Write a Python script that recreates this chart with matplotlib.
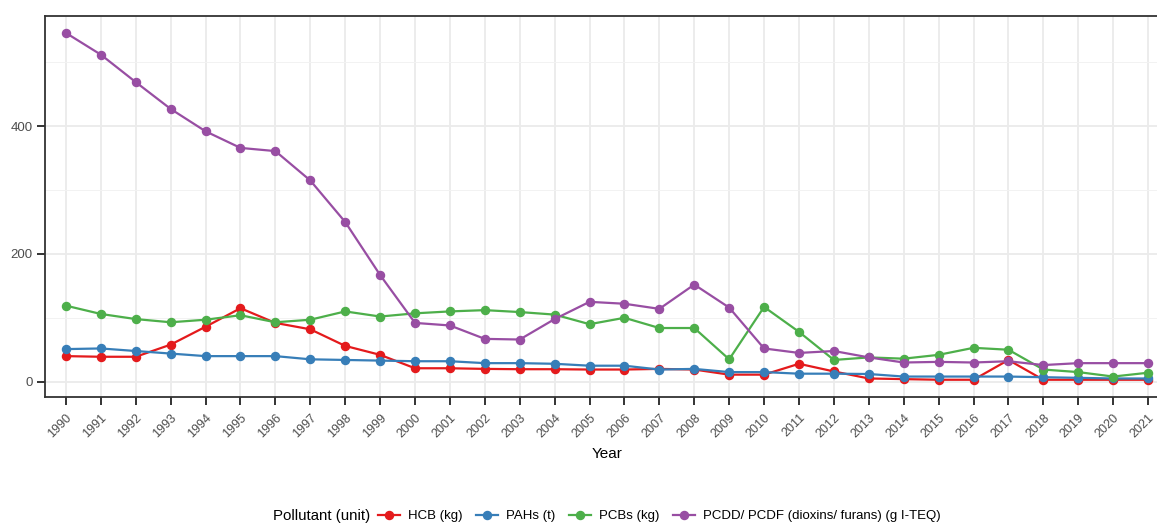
import matplotlib
matplotlib.use("Agg")
import matplotlib.pyplot as plt
from matplotlib.lines import Line2D

years = list(range(1990, 2022))

hcb = [40, 39, 39, 58, 86, 115, 92, 82, 56, 42, 21, 21, 20, 19.5, 19.5, 19, 19, 20, 19, 11,
       11, 28, 16, 5, 4, 3, 3, 34, 3, 3, 3, 3]
pahs = [51, 52, 48, 44, 40, 40, 40, 35, 34, 33, 32, 32, 29, 29, 28, 25, 25, 19, 20, 15,
        15, 12.5, 12.5, 12, 8, 8, 8, 8, 7, 6, 5, 5]
pcbs = [119, 106, 98, 93, 97, 104, 93, 97, 110, 102, 107, 110, 112, 109, 105, 90, 100, 84, 84, 35,
        117, 78, 34, 38, 36, 42, 53, 50, 19, 15, 8, 14]
pcdd = [546, 512, 469, 427, 392, 366, 361, 315, 250, 167, 92, 88, 67, 66, 98, 125, 122, 114, 152, 116,
        52, 45, 48, 38, 30, 31, 30, 32, 26, 29, 29, 29]

series_names = ["HCB (kg)", "PAHs (t)", "PCBs (kg)", "PCDD/ PCDF (dioxins/ furans) (g I-TEQ)"]
series_values = [hcb, pahs, pcbs, pcdd]
colors = ["#E41A1C", "#377EB8", "#4DAF4A", "#984EA3"]

W, H = 1157, 526
plt.rcParams['font.family'] = ['Liberation Sans', 'DejaVu Sans']
fig = plt.figure(figsize=(W / 100, H / 100), dpi=100)

left, right, top, bottom = 45, 1169, 15.7, 397
ax = fig.add_axes([left / W, 1 - bottom / H, (right - left) / W, (bottom - top) / H])

xpos = list(range(len(years)))
for name, vals, c in zip(series_names, series_values, colors):
    ax.plot(xpos, vals, color=c, lw=1.6, marker='o', ms=5.8, label=name, zorder=3)

ax.set_xlim(-0.6, len(years) - 1 + 0.6)
ax.set_ylim(-24, 573)
ax.set_yticks([0, 200, 400])
ax.set_yticks([100, 300, 500], minor=True)
ax.set_xticks(xpos)
ax.set_xticklabels([str(y) for y in years], rotation=45, ha='right', va='top',
                   rotation_mode='anchor')
ax.grid(True, which='major', color='#EBEBEB', lw=1.3, zorder=0)
ax.grid(True, which='minor', axis='y', color='#F2F2F2', lw=0.7, zorder=0)
ax.set_axisbelow(True)
ax.tick_params(axis='both', which='major', length=5.5, width=1.4, color='#333333',
               labelsize=9, labelcolor='#4D4D4D')
ax.tick_params(axis='x', which='major', pad=5)
ax.tick_params(axis='y', which='major', pad=3.5, labelsize=9.5)
ax.tick_params(axis='y', which='minor', length=0)
for sp in ax.spines.values():
    sp.set_color('#333333')
    sp.set_linewidth(1.3)
ax.set_xlabel("Year", fontsize=11, color='black', labelpad=5)

ly = 1 - 516 / H
fig.text(273 / W, ly, "Pollutant (unit)", fontsize=10.8, va='center', ha='left')
handles = [Line2D([0], [0], color=c, lw=1.6, marker='o', ms=5.8) for c in colors]
leg = fig.legend(handles, series_names, loc='center left',
                 bbox_to_anchor=(378 / W, ly), ncol=4, frameon=False,
                 fontsize=9.5, handlelength=1.7, handletextpad=0.6, columnspacing=1.0,
                 borderaxespad=0, borderpad=0)

fig.savefig("out.png", dpi=100)
